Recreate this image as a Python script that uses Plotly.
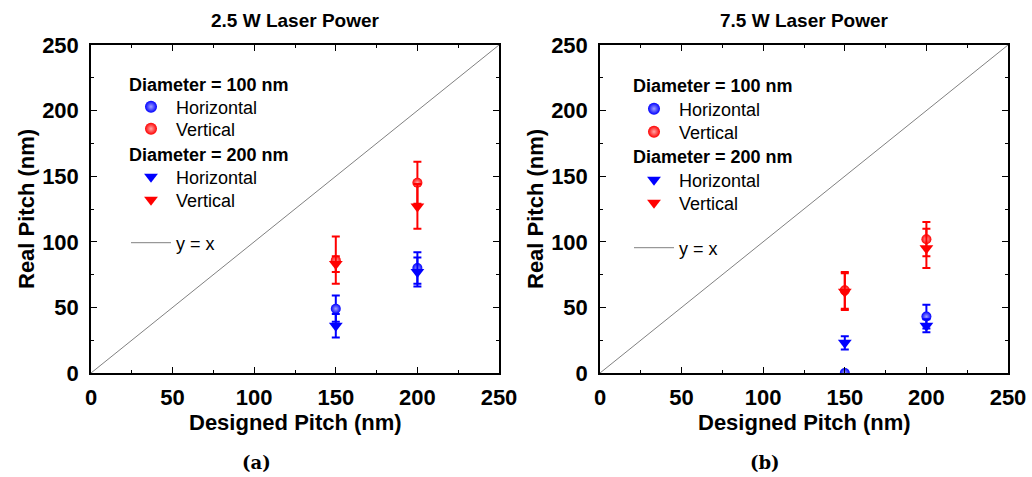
import plotly.graph_objects as go

# ---- data ----
designed = [150, 200]
diag_x = [0, 250]
diag_y = [0, 250]

# panel (a) 2.5 W
a_h100 = [49, 80]
a_h100_err = [10, 12]
a_v100 = [86, 145]
a_v100_err = [18, 16]
a_h200 = [36, 77]
a_h200_err = [9, 11]
a_v200 = [83, 127]
a_v200_err = [6, 17]

# panel (b) 7.5 W
b_h100 = [0, 43]
b_h100_err = [0, 9]
b_v100 = [63, 102]
b_v100_err = [14, 13]
b_h200 = [23, 36]
b_h200_err = [5, 5]
b_v200 = [62, 95]
b_v200_err = [14, 15]

titles = ["2.5 W Laser Power", "7.5 W Laser Power"]
subcaps = ["(a)", "(b)"]
group_titles = ["Diameter = 100 nm", "Diameter = 200 nm"]
tick_vals = [0, 50, 100, 150, 200, 250]
tick_text = ["0", "50", "100", "150", "200", "250"]

BLUE = "#0000ff"
RED = "#ff0000"
FONT = "Liberation Sans"
OFF = 0                      # page body margin removed via post_script
W, H = 1032, 477


def px(x):
    return (x - OFF) / W


def py(y):
    return 1 - (y - OFF) / H


fig = go.Figure()

panels = [
    (a_h100, a_h100_err, a_v100, a_v100_err, a_h200, a_h200_err, a_v200, a_v200_err),
    (b_h100, b_h100_err, b_v100, b_v100_err, b_h200, b_h200_err, b_v200, b_v200_err),
]

leg_layout = [
    dict(lx=126, title_x=127, title_y=[85, 155], items=[107, 129, 177, 200, 243]),
    dict(lx=629, title_x=631, title_y=[86, 157], items=[109, 132, 180, 203, 248]),
]

leg_font = dict(family=FONT, size=18, color="black")
legends = {}
leg_counter = [0]


def new_legend(xpx, ypx, constant=True):
    leg_counter[0] += 1
    key = "legend" if leg_counter[0] == 1 else f"legend{leg_counter[0]}"
    d = dict(x=px(xpx), y=py(ypx), xanchor="left", yanchor="middle",
             bgcolor="rgba(0,0,0,0)", borderwidth=0, font=leg_font,
             itemwidth=40, itemclick=False, itemdoubleclick=False)
    if constant:
        d["itemsizing"] = "constant"
    legends[key] = d
    return key


for i, p in enumerate(panels):
    xa = "x" if i == 0 else "x2"
    ya = "y" if i == 0 else "y2"
    L = leg_layout[i]
    h100, h100e, v100, v100e, h200, h200e, v200, v200e = p
    series = [
        (h100, h100e, BLUE, "circle", "Horizontal", L["items"][0], 10),
        (v100, v100e, RED, "circle", "Vertical", L["items"][1], 10),
        (h200, h200e, BLUE, "triangle-down", "Horizontal", L["items"][2], 12),
        (v200, v200e, RED, "triangle-down", "Vertical", L["items"][3], 12),
    ]
    fig.add_trace(go.Scatter(
        x=diag_x, y=diag_y, mode="lines", name="y = x",
        line=dict(color="#808080", width=1),
        xaxis=xa, yaxis=ya, legend=new_legend(L["lx"], L["items"][4], constant=False)))
    for vals, errs, col, sym, name, ypos, sz in series:
        light = "#a0a0ff" if col == BLUE else "#ffa8a8"
        fig.add_trace(go.Scatter(
            x=designed, y=vals, mode="markers", name=name,
            marker=dict(color=col, symbol=sym, size=sz,
                        line=dict(width=0),
                        gradient=dict(type="radial", color=light) if sym == "circle" else None),
            error_y=dict(type="data", array=errs, visible=True, color=col,
                         thickness=2, width=4),
            xaxis=xa, yaxis=ya, legend=new_legend(L["lx"], ypos)))

axis_common = dict(
    range=[0, 250], tickvals=tick_vals, ticktext=tick_text,
    showgrid=False, zeroline=False, automargin=False,
    showline=True, linecolor="black", linewidth=1.5, mirror="ticks",
    ticks="inside", ticklen=6, tickwidth=1.2, tickcolor="black",
    minor=dict(ticks="inside", ticklen=3, dtick=25, tickwidth=1.2, tickcolor="black"),
    tickfont=dict(family=FONT, size=22, color="black", weight="bold"),
    fixedrange=True,
)

ydom = [py(373), py(45)]
dom_a = [px(91), px(499)]
dom_b = [px(600), px(1008)]

title_font = dict(family=FONT, size=22, color="black", weight="bold")

fig.update_layout(
    width=W, height=H,
    margin=dict(l=0, r=0, t=0, b=0),
    paper_bgcolor="white", plot_bgcolor="white",
    showlegend=True,
    xaxis=dict(axis_common, domain=dom_a, anchor="y", ticklabelstandoff=4),
    yaxis=dict(axis_common, domain=ydom, anchor="x", ticklabelstandoff=6),
    xaxis2=dict(axis_common, domain=dom_b, anchor="y2", ticklabelstandoff=4),
    yaxis2=dict(axis_common, domain=ydom, anchor="x2", ticklabelstandoff=6),
    **legends,
)

annotations = []
for i, (t, s) in enumerate(zip(titles, subcaps)):
    L = leg_layout[i]
    cx = 295 if i == 0 else 804
    annotations.append(dict(text=t, x=px(cx), y=py(21), xref="paper", yref="paper",
                            showarrow=False, xanchor="center", yanchor="middle",
                            font=dict(family=FONT, size=19, color="black", weight="bold")))
    annotations.append(dict(text="Designed Pitch (nm)", x=px(cx), y=py(422),
                            xref="paper", yref="paper", showarrow=False,
                            xanchor="center", yanchor="middle", font=title_font))
    annotations.append(dict(text="Real Pitch (nm)", x=px(26 if i == 0 else 535),
                            y=py(209), xref="paper", yref="paper", showarrow=False,
                            textangle=-90, xanchor="center", yanchor="middle", font=title_font))
    annotations.append(dict(text=s, x=px(256 if i == 0 else 765), y=py(462),
                            xref="paper", yref="paper", showarrow=False,
                            xanchor="center", yanchor="middle",
                            font=dict(family="DejaVu Serif", size=18, color="black", weight="bold")))
    for gt, gy in zip(group_titles, L["title_y"]):
        annotations.append(dict(text=gt, x=px(L["title_x"]), y=py(gy),
                                xref="paper", yref="paper", showarrow=False,
                                xanchor="left", yanchor="middle",
                                font=dict(family=FONT, size=18, color="black", weight="bold")))
fig.update_layout(annotations=annotations)

fig.write_html("out.html",
               config={"displayModeBar": False},
               post_script="document.body.style.margin='0';document.body.style.overflow='hidden';")
